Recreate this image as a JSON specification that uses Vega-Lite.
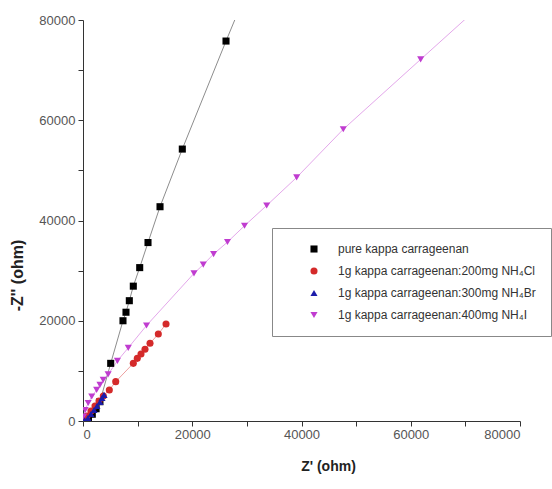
{
  "$schema": "https://vega.github.io/schema/vega-lite/v6.json",
  "autosize": "none",
  "width": 437,
  "height": 401,
  "padding": {"left": 83, "top": 20, "right": 32, "bottom": 68},
  "background": "white",
  "config": {"view": {"stroke": null}},
  "data": {"values": [
    {"s": "pure kappa carrageenan", "x": 500, "y": 250},
    {"s": "pure kappa carrageenan", "x": 1000, "y": 650},
    {"s": "pure kappa carrageenan", "x": 1700, "y": 1350},
    {"s": "pure kappa carrageenan", "x": 2400, "y": 2450},
    {"s": "pure kappa carrageenan", "x": 3100, "y": 3850},
    {"s": "pure kappa carrageenan", "x": 5070, "y": 11500},
    {"s": "pure kappa carrageenan", "x": 7320, "y": 20000},
    {"s": "pure kappa carrageenan", "x": 7870, "y": 21700},
    {"s": "pure kappa carrageenan", "x": 8480, "y": 24000},
    {"s": "pure kappa carrageenan", "x": 9210, "y": 26900},
    {"s": "pure kappa carrageenan", "x": 10380, "y": 30600},
    {"s": "pure kappa carrageenan", "x": 11900, "y": 35600},
    {"s": "pure kappa carrageenan", "x": 14100, "y": 42750},
    {"s": "pure kappa carrageenan", "x": 18180, "y": 54250},
    {"s": "pure kappa carrageenan", "x": 26180, "y": 75800},
    {"s": "pure kappa carrageenan", "x": 29000, "y": 83200},
    {"s": "1g kappa carrageenan:200mg NH₄Cl", "x": 400, "y": 400},
    {"s": "1g kappa carrageenan:200mg NH₄Cl", "x": 730, "y": 1000},
    {"s": "1g kappa carrageenan:200mg NH₄Cl", "x": 1460, "y": 2000},
    {"s": "1g kappa carrageenan:200mg NH₄Cl", "x": 2200, "y": 3000},
    {"s": "1g kappa carrageenan:200mg NH₄Cl", "x": 2930, "y": 4000},
    {"s": "1g kappa carrageenan:200mg NH₄Cl", "x": 3720, "y": 5000},
    {"s": "1g kappa carrageenan:200mg NH₄Cl", "x": 4820, "y": 6200},
    {"s": "1g kappa carrageenan:200mg NH₄Cl", "x": 5990, "y": 7850},
    {"s": "1g kappa carrageenan:200mg NH₄Cl", "x": 9210, "y": 11500},
    {"s": "1g kappa carrageenan:200mg NH₄Cl", "x": 9940, "y": 12500},
    {"s": "1g kappa carrageenan:200mg NH₄Cl", "x": 10620, "y": 13350},
    {"s": "1g kappa carrageenan:200mg NH₄Cl", "x": 11350, "y": 14300},
    {"s": "1g kappa carrageenan:200mg NH₄Cl", "x": 12270, "y": 15500},
    {"s": "1g kappa carrageenan:200mg NH₄Cl", "x": 13790, "y": 17350},
    {"s": "1g kappa carrageenan:200mg NH₄Cl", "x": 15200, "y": 19350},
    {"s": "1g kappa carrageenan:400mg NH₄I", "x": 100, "y": 900},
    {"s": "1g kappa carrageenan:400mg NH₄I", "x": 400, "y": 2200},
    {"s": "1g kappa carrageenan:400mg NH₄I", "x": 950, "y": 3600},
    {"s": "1g kappa carrageenan:400mg NH₄I", "x": 1600, "y": 4900},
    {"s": "1g kappa carrageenan:400mg NH₄I", "x": 2500, "y": 6200},
    {"s": "1g kappa carrageenan:400mg NH₄I", "x": 3100, "y": 7200},
    {"s": "1g kappa carrageenan:400mg NH₄I", "x": 3700, "y": 8200},
    {"s": "1g kappa carrageenan:400mg NH₄I", "x": 4600, "y": 9300},
    {"s": "1g kappa carrageenan:400mg NH₄I", "x": 6300, "y": 12000},
    {"s": "1g kappa carrageenan:400mg NH₄I", "x": 8290, "y": 14600},
    {"s": "1g kappa carrageenan:400mg NH₄I", "x": 11630, "y": 19050},
    {"s": "1g kappa carrageenan:400mg NH₄I", "x": 20320, "y": 29450},
    {"s": "1g kappa carrageenan:400mg NH₄I", "x": 22020, "y": 31200},
    {"s": "1g kappa carrageenan:400mg NH₄I", "x": 23910, "y": 33300},
    {"s": "1g kappa carrageenan:400mg NH₄I", "x": 26450, "y": 35700},
    {"s": "1g kappa carrageenan:400mg NH₄I", "x": 29570, "y": 38950},
    {"s": "1g kappa carrageenan:400mg NH₄I", "x": 33630, "y": 43000},
    {"s": "1g kappa carrageenan:400mg NH₄I", "x": 39120, "y": 48600},
    {"s": "1g kappa carrageenan:400mg NH₄I", "x": 47650, "y": 58200},
    {"s": "1g kappa carrageenan:400mg NH₄I", "x": 61820, "y": 72150},
    {"s": "1g kappa carrageenan:400mg NH₄I", "x": 75000, "y": 85100},
    {"s": "1g kappa carrageenan:300mg NH₄Br", "x": 300, "y": 150},
    {"s": "1g kappa carrageenan:300mg NH₄Br", "x": 900, "y": 600},
    {"s": "1g kappa carrageenan:300mg NH₄Br", "x": 1460, "y": 1400},
    {"s": "1g kappa carrageenan:300mg NH₄Br", "x": 2010, "y": 2200},
    {"s": "1g kappa carrageenan:300mg NH₄Br", "x": 2560, "y": 3000},
    {"s": "1g kappa carrageenan:300mg NH₄Br", "x": 3110, "y": 3800},
    {"s": "1g kappa carrageenan:300mg NH₄Br", "x": 3480, "y": 4600},
    {"s": "1g kappa carrageenan:300mg NH₄Br", "x": 3850, "y": 5200}
  ]},
  "encoding": {
    "x": {"field": "x", "type": "quantitative", "scale": {"domain": [0, 80000], "nice": false},
      "axis": {"values": [0, 10000, 20000, 30000, 40000, 50000, 60000, 70000, 80000], "format": "d",
        "labelExpr": "datum.value % 20000 === 0 ? datum.label : ''",
        "tickSize": 5, "ticks": true, "tickWidth": 1,
        "grid": false, "domainColor": "#333", "tickColor": "#333", "labelColor": "#555",
        "labelFont": "Liberation Sans", "labelFontSize": 13, "labelPadding": 2,
        "title": "Z' (ohm)", "titleFont": "Liberation Sans", "titleFontSize": 14, "titleFontWeight": "bold",
        "titleColor": "#222", "titleX": 245, "titleY": 52, "titleBaseline": "bottom", "titleAnchor": "middle", "titleAlign": "center"}},
    "y": {"field": "y", "type": "quantitative", "scale": {"domain": [0, 80000], "nice": false},
      "axis": {"values": [0, 10000, 20000, 30000, 40000, 50000, 60000, 70000, 80000], "format": "d",
        "labelExpr": "datum.value % 20000 === 0 ? datum.label : ''",
        "tickSize": 5, "ticks": true, "tickWidth": 1,
        "grid": false, "domainColor": "#333", "tickColor": "#333", "labelColor": "#555",
        "labelFont": "Liberation Sans", "labelFontSize": 13, "labelPadding": 3,
        "title": "-Z'' (ohm)", "titleFont": "Liberation Sans", "titleFontSize": 16, "titleFontWeight": "bold",
        "titleColor": "#222", "titleX": -58, "titleY": 255, "titleAngle": -90, "titleBaseline": "bottom", "titleAlign": "center", "titleAnchor": "middle"}},
    "color": {"field": "s", "type": "nominal",
      "scale": {"domain": ["pure kappa carrageenan", "1g kappa carrageenan:200mg NH₄Cl", "1g kappa carrageenan:300mg NH₄Br", "1g kappa carrageenan:400mg NH₄I"],
        "range": ["#000000", "#d42a2a", "#1c1caa", "#c03cd0"]},
      "legend": {"orient": "none", "legendX": 189, "legendY": 208, "title": null,
        "fillColor": "white", "strokeColor": "#888", "padding": 15, "rowPadding": 10,
        "symbolSize": 50, "symbolOffset": 21, "symbolStrokeWidth": 0, "symbolOpacity": 1, "labelOffset": 18,
        "labelFont": "Liberation Sans", "labelFontSize": 12, "labelColor": "#333", "labelLimit": 400}}
  },
  "layer": [
    {
      "mark": {"type": "line", "strokeWidth": 1, "opacity": 0.45, "clip": true}
    },
    {
      "mark": {"type": "point", "filled": true, "opacity": 1, "size": 50, "clip": true},
      "encoding": {
        "shape": {"field": "s", "type": "nominal",
          "scale": {"domain": ["pure kappa carrageenan", "1g kappa carrageenan:200mg NH₄Cl", "1g kappa carrageenan:300mg NH₄Br", "1g kappa carrageenan:400mg NH₄I"],
            "range": ["square", "circle", "triangle-up", "triangle-down"]},
          "legend": {"orient": "none", "legendX": 189, "legendY": 208, "title": null,
            "fillColor": "white", "strokeColor": "#888", "padding": 15, "rowPadding": 10,
            "symbolSize": 50, "symbolOffset": 21, "symbolStrokeWidth": 0, "symbolOpacity": 1, "labelOffset": 18,
            "labelFont": "Liberation Sans", "labelFontSize": 12, "labelColor": "#333", "labelLimit": 400}}
      }
    }
  ]
}
